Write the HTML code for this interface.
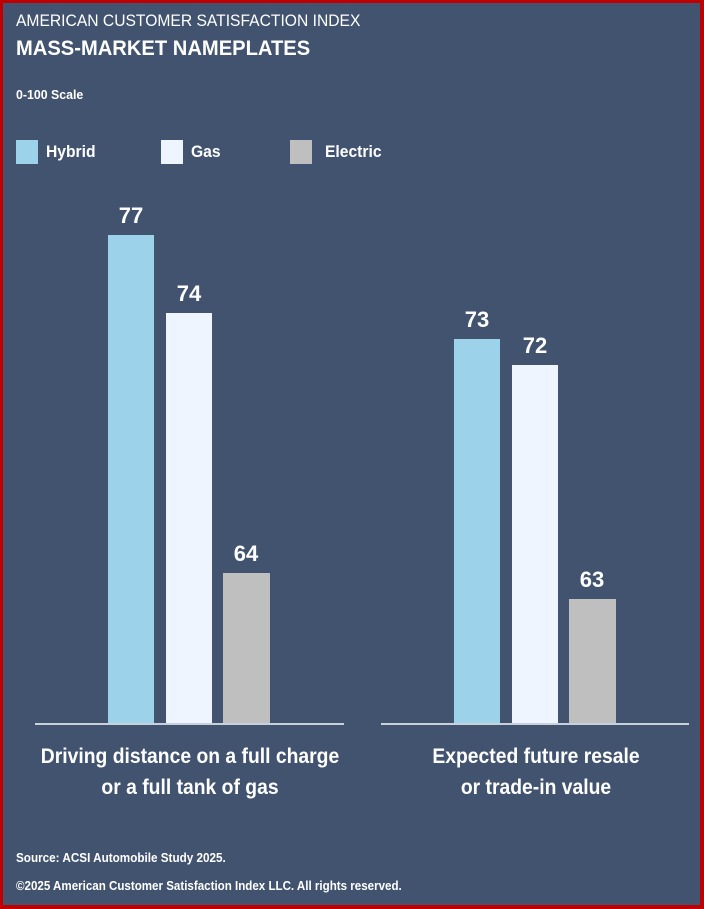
<!DOCTYPE html>
<html><head><meta charset="utf-8"><style>
*{margin:0;padding:0;box-sizing:border-box}
body{width:704px;height:909px;background:#c00000;position:relative;overflow:hidden;font-family:"Liberation Sans",sans-serif;color:#fff}
#p{position:absolute;left:3px;top:3px;width:697px;height:902px;background:#41536f}
.t{position:absolute;white-space:nowrap;transform-origin:left top}
.b{position:absolute}
.v{position:absolute;width:60px;text-align:center;font-weight:bold;font-size:22px}
.lab{position:absolute;text-align:center;font-weight:bold;font-size:21px;line-height:31px;transform:scaleX(0.92)}
</style></head><body>
<div id="p"></div>
<div class="t" style="left:16px;top:11px;font-size:17px;transform:scaleX(0.92)">AMERICAN CUSTOMER SATISFACTION INDEX</div>
<div class="t" style="left:16px;top:37px;font-size:21px;font-weight:bold;transform:scaleX(0.96)">MASS-MARKET NAMEPLATES</div>
<div class="t" style="left:16px;top:87px;font-size:13px;font-weight:bold;transform:scaleX(0.95)">0-100 Scale</div>
<div class="b" style="left:16px;top:140px;width:22px;height:24px;background:#9dd3ea"></div>
<div class="t" style="left:46px;top:142px;font-size:17px;font-weight:bold;transform:scaleX(0.92)">Hybrid</div>
<div class="b" style="left:161px;top:140px;width:22px;height:24px;background:#eef5ff"></div>
<div class="t" style="left:191px;top:142px;font-size:17px;font-weight:bold;transform:scaleX(0.92)">Gas</div>
<div class="b" style="left:290px;top:140px;width:22px;height:24px;background:#bfbfbf"></div>
<div class="t" style="left:325px;top:142px;font-size:17px;font-weight:bold;transform:scaleX(0.92)">Electric</div>

<div class="b" style="left:108px;top:235px;width:46px;height:489px;background:#9dd3ea"></div>
<div class="b" style="left:166px;top:313px;width:46px;height:411px;background:#eef5ff"></div>
<div class="b" style="left:223px;top:573px;width:47px;height:151px;background:#bfbfbf"></div>
<div class="b" style="left:454px;top:339px;width:46px;height:385px;background:#9dd3ea"></div>
<div class="b" style="left:512px;top:365px;width:46px;height:359px;background:#eef5ff"></div>
<div class="b" style="left:569px;top:599px;width:47px;height:125px;background:#bfbfbf"></div>
<div class="b" style="left:35px;top:723px;width:309px;height:2px;background:#c8d0dc"></div>
<div class="b" style="left:381px;top:723px;width:308px;height:2px;background:#c8d0dc"></div>

<div class="v" style="left:101px;top:203px">77</div>
<div class="v" style="left:159px;top:281px">74</div>
<div class="v" style="left:216px;top:541px">64</div>
<div class="v" style="left:447px;top:307px">73</div>
<div class="v" style="left:505px;top:333px">72</div>
<div class="v" style="left:562px;top:567px">63</div>

<div class="lab" style="left:20px;width:340px;top:741px">Driving distance on a full charge<br>or a full tank of gas</div>
<div class="lab" style="left:366px;width:340px;top:741px">Expected future resale<br>or trade-in value</div>

<div class="t" style="left:16px;top:850px;font-size:13px;font-weight:bold;transform:scaleX(0.9)">Source: ACSI Automobile Study 2025.</div>
<div class="t" style="left:16px;top:878px;font-size:13px;font-weight:bold;transform:scaleX(0.89)">©2025 American Customer Satisfaction Index LLC. All rights reserved.</div>
</body></html>
